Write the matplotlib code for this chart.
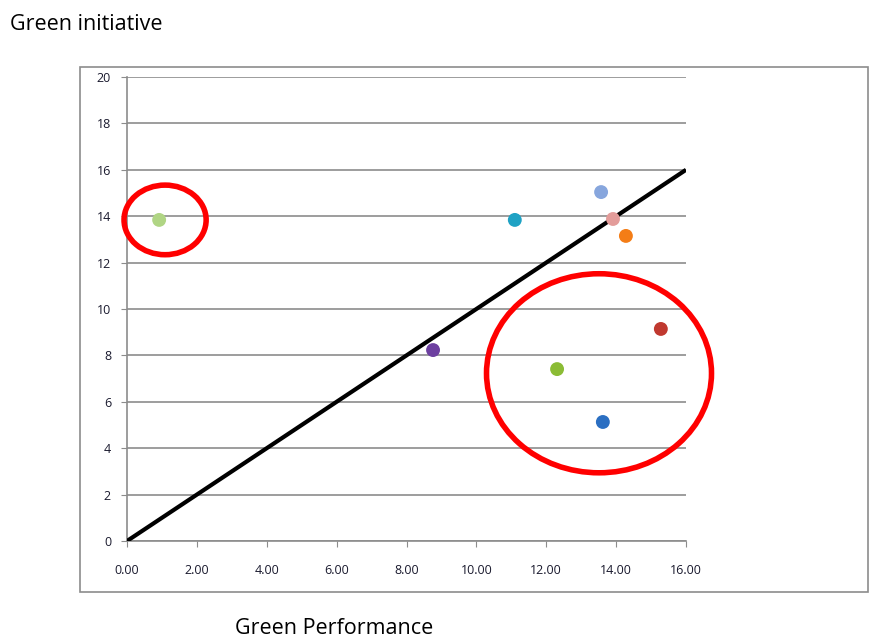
import matplotlib.pyplot as plt
from matplotlib.patches import Ellipse, Rectangle
import numpy as np

# data
perf = [0.92, 11.10, 13.57, 13.91, 14.28, 15.28, 8.76, 12.31, 13.62]
init = [13.84, 13.84, 15.04, 13.88, 13.15, 9.14, 8.23, 7.41, 5.13]
colors = ['#B0D584', '#1FA2C4', '#87A6DD', '#E39C9A', '#F47D16',
          '#C0392F', '#6D40A0', '#8BBC35', '#2B6FC2']
line_x = [0, 16]
line_y = [0, 16]
x_ticks = np.arange(0, 17, 2)
y_ticks = np.arange(0, 21, 2)


def main():
    W, H = 870, 639
    fig = plt.figure(figsize=(W / 100, H / 100), dpi=100)
    plt.rcParams['font.family'] = ['Open Sans', 'DejaVu Sans']

    # outer chart border
    fig.patches.append(Rectangle((80 / W, 1 - 592 / H), (868 - 80) / W,
                                 (592 - 67) / H, transform=fig.transFigure,
                                 fill=False, edgecolor='#8c8c8c', lw=1.2))

    ax = fig.add_axes([127 / W, 1 - 541 / H, 559 / W, 464 / H])
    ax.set_xlim(0, 16)
    ax.set_ylim(0, 20)
    for s in ['top', 'right']:
        ax.spines[s].set_visible(False)
    for s in ['left', 'bottom']:
        ax.spines[s].set_color('#8c8c8c')
        ax.spines[s].set_linewidth(1.2)
        ax.spines[s].set_zorder(1)

    ax.set_xticks(x_ticks)
    ax.set_xticklabels(['%.2f' % v for v in x_ticks])
    ax.set_yticks(y_ticks)
    ax.tick_params(direction='out', length=4.5, color='#8c8c8c', labelsize=9,
                   labelcolor='#1a1a2e')
    ax.tick_params(axis='x', pad=12)
    ax.tick_params(axis='y', pad=7)
    ax.grid(axis='y', color='#8c8c8c', lw=1.2, zorder=0)
    ax.set_axisbelow(True)

    ax.plot(line_x, line_y, color='black', lw=3, zorder=3,
            solid_capstyle='butt')
    ax.scatter(perf, init, s=100, c=colors, zorder=4, linewidths=0)

    ax.add_patch(Ellipse((1.09, 13.84), 2.35, 3.0, fill=False,
                         edgecolor='#FF0000', lw=4, zorder=5, clip_on=False))
    ax.add_patch(Ellipse((13.51, 7.23), 6.44, 8.58, fill=False,
                         edgecolor='#FF0000', lw=4, zorder=5, clip_on=False))

    fig.text(10 / W, 1 - 25 / H, 'Green initiative', fontsize=15.5,
             va='center', ha='left')
    fig.text(334 / W, 1 - 629 / H, 'Green Performance', fontsize=15.5,
             va='center', ha='center')

    fig.savefig('out.png', dpi=100)


if __name__ == "__main__":
    main()
